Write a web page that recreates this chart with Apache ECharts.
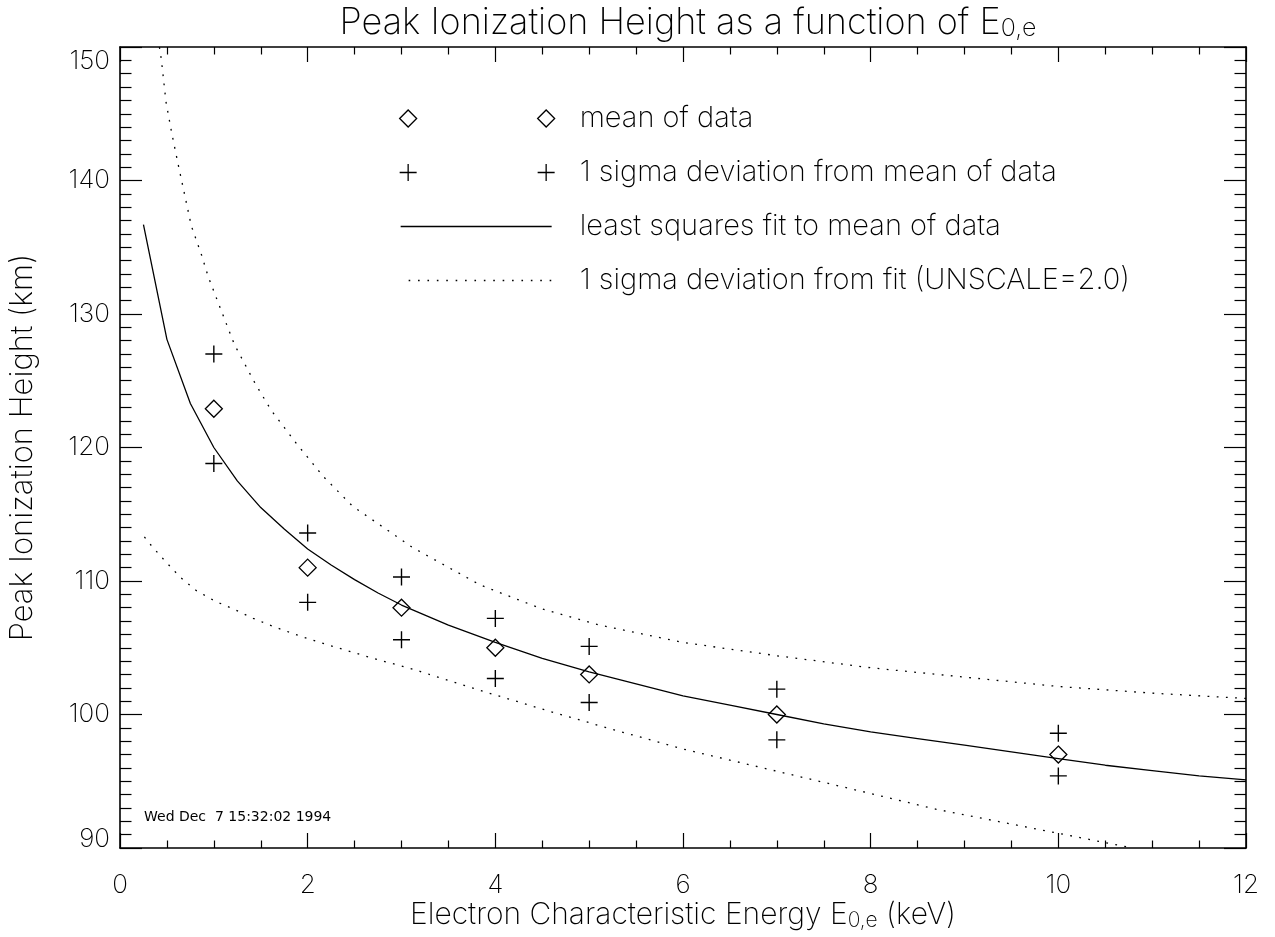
<!DOCTYPE html>
<html>
<head>
<meta charset="utf-8">
<script src="https://cdn.jsdelivr.net/npm/echarts@6/dist/echarts.min.js"></script>
<style>
html,body{margin:0;padding:0;background:#fff;}
#chart{width:1275px;height:937px;}
</style>
</head>
<body>
<div id="chart"></div>
<script>
// ---------------- data ----------------
const xTicks = [0, 2, 4, 6, 8, 10, 12];
const yTicks = [90, 100, 110, 120, 130, 140, 150];

const energies   = [1, 2, 3, 4, 5, 7, 10];
const meanHeight = [122.9, 111.0, 108.0, 105.0, 103.0, 100.0, 97.0];
const sigmaUpper = [127.0, 113.6, 110.3, 107.2, 105.1, 101.9, 98.6];
const sigmaLower = [118.8, 108.4, 105.6, 102.7, 100.9, 98.1, 95.4];

const fitE = [0.25, 0.5, 0.75, 1, 1.25, 1.5, 1.75, 2, 2.25, 2.5, 2.75, 3, 3.5, 4, 4.5, 5,
              5.5, 6, 6.5, 7, 7.5, 8, 8.5, 9, 9.5, 10, 10.5, 11, 11.5, 12];
const fitH = [136.7, 128.1, 123.3, 120.0, 117.5, 115.5, 113.9, 112.4, 111.2, 110.1, 109.1, 108.2, 106.7, 105.4, 104.2, 103.2,
              102.3, 101.4, 100.7, 100.0, 99.3, 98.7, 98.2, 97.7, 97.2, 96.7, 96.2, 95.8, 95.4, 95.1];

const upperFitE = [0.42, 0.44, 0.49, 0.55, 0.62, 0.69, 0.76, 0.87, 0.94, 1.06, 1.22, 1.44, 1.61, 1.88, 2.17, 2.48,
                   3.12, 3.84, 4.5, 5.11, 6, 7, 8, 9, 10, 11, 12];
const upperFitH = [150.0, 149.1, 145.9, 143.6, 141.2, 138.9, 136.6, 134.4, 132.8, 130.6, 127.7, 124.8, 122.8, 120.3, 117.8, 115.6,
                   112.5, 109.7, 107.9, 106.7, 105.4, 104.4, 103.5, 102.8, 102.1, 101.6, 101.2];

const lowerFitE = [0.26, 0.34, 0.48, 0.64, 0.81, 1.01, 1.21, 1.42, 1.63, 1.95, 2.27, 2.7, 3.12, 3.84, 4.55, 5.19,
                   6.01, 6.91, 7.81, 8.7, 10.0, 10.79];
const lowerFitH = [113.3, 112.6, 111.5, 110.3, 109.3, 108.5, 107.9, 107.2, 106.6, 105.8, 105.1, 104.2, 103.4, 101.8, 100.3, 99.0,
                   97.4, 95.9, 94.4, 92.9, 91.1, 90.0];

const titleText = 'Peak Ionization Height as a function of E{sub|0,e}';
const xName = 'Electron Characteristic Energy E{sub|0,e} (keV)';
const yName = 'Peak Ionization Height (km)';
const stampText = 'Wed Dec  7 15:32:02 1994';
const legendNames = ['mean of data', '1 sigma deviation from mean of data',
                     'least squares fit to mean of data', '1 sigma deviation from fit (UNSCALE=2.0)'];

// ---------------- styling ----------------
const FONT = "Inter, 'DejaVu Sans', sans-serif";
const FW = 200;
const INK = '#000';
const pairs = (xs, ys) => xs.map((x, i) => [x, ys[i]]);

const PLUS = 'path://M0 8 L16 8 M8 0 L8 16';
const W = 155, H = 17;
const box = 'M0 0 M' + W + ' ' + H + ' ';
const iconDiamonds = 'path://' + box + 'M0 8.5 L8.5 0 L17 8.5 L8.5 17 Z M138 8.5 L146.5 0 L155 8.5 L146.5 17 Z';
const iconPlus = 'path://' + box + 'M0 8.5 L17 8.5 M8.5 0 L8.5 17 M138 8.5 L155 8.5 M146.5 0 L146.5 17';
const iconSolid = 'path://' + box + 'M1 8.5 L152 8.5';
let dotted = box;
for (let p = 9; p < 152; p += 9.4) dotted += 'M' + p.toFixed(1) + ' 8.5 L' + (p + 1.6).toFixed(1) + ' 8.5 ';
const iconDotted = 'path://' + dotted;

const strokeOnly = { color: 'rgba(0,0,0,0)', borderColor: INK, borderWidth: 1.3 };

const subRich = (size, pad) => ({
  sub: { fontFamily: FONT, fontWeight: FW, fontSize: size, color: INK, verticalAlign: 'bottom', lineHeight: size, padding: [pad, 0, 0, 0] }
});

const axisCommon = {
  type: 'value',
  axisLine: { show: true, onZero: false, lineStyle: { color: INK, width: 1.6 } },
  splitLine: { show: false },
};

const yLabelRich = {
  lo: { fontFamily: FONT, fontWeight: FW, fontSize: 26, color: INK, lineHeight: 17 },
  hi: { fontFamily: FONT, fontWeight: FW, fontSize: 26, color: INK, lineHeight: 28 }
};
const yLabelFormatter = v => {
  if (yTicks.indexOf(v) < 0) return '';
  if (v === yTicks[0]) return '{lo|' + v + '}';
  if (v === yTicks[yTicks.length - 1]) return '{hi|' + v + '}';
  return String(v);
};

const chart = echarts.init(document.getElementById('chart'), null, { renderer: 'canvas' });

const option = {
  backgroundColor: '#fff',
  animation: false,
  title: {
    text: titleText,
    left: 683,
    textAlign: 'center',
    top: 0,
    textStyle: { fontFamily: FONT, fontSize: 36, fontWeight: FW, color: INK, lineHeight: 36, rich: subRich(25, 17) }
  },
  grid: { left: 120, right: 29, top: 47, bottom: 89, containLabel: false, outerBoundsMode: 'none' },
  legend: {
    orient: 'vertical',
    left: 394,
    top: 98,
    itemWidth: W,
    itemHeight: H,
    itemGap: 23,
    selectedMode: false,
    symbolKeepAspect: false,
    textStyle: { fontFamily: FONT, fontWeight: FW, fontSize: 29, color: INK, lineHeight: 31, padding: [0, 0, 0, 20] },
    data: [
      { name: legendNames[0], icon: iconDiamonds, itemStyle: strokeOnly },
      { name: legendNames[1], icon: iconPlus, itemStyle: strokeOnly },
      { name: legendNames[2], icon: iconSolid, itemStyle: { color: 'rgba(0,0,0,0)', borderColor: INK, borderWidth: 1.3 } },
      { name: legendNames[3], icon: iconDotted, itemStyle: { color: 'rgba(0,0,0,0)', borderColor: INK, borderWidth: 1.3 } }
    ]
  },
  xAxis: [
    Object.assign({}, axisCommon, {
      position: 'bottom', min: xTicks[0], max: xTicks[xTicks.length - 1], interval: 2,
      name: xName, nameLocation: 'middle', nameGap: 51, nameMoveOverlap: false,
      nameTextStyle: { fontFamily: FONT, fontWeight: FW, fontSize: 30, color: INK, lineHeight: 32, rich: subRich(21, 15) },
      axisTick: { show: true, inside: true, length: 15, lineStyle: { color: INK, width: 1.2 } },
      minorTick: { show: true, splitNumber: 4, length: 7.5, lineStyle: { color: INK, width: 1.2 } },
      axisLabel: { show: true, margin: 24, fontFamily: FONT, fontWeight: FW, fontSize: 26, color: INK,
                   formatter: v => (xTicks.indexOf(v) >= 0 ? String(v) : '') }
    }),
    Object.assign({}, axisCommon, {
      position: 'top', min: xTicks[0], max: xTicks[xTicks.length - 1], interval: 2,
      axisTick: { show: true, inside: true, length: 15, lineStyle: { color: INK, width: 1.2 } },
      minorTick: { show: true, splitNumber: 4, length: 7.5, lineStyle: { color: INK, width: 1.2 } },
      axisLabel: { show: false }
    })
  ],
  yAxis: [
    Object.assign({}, axisCommon, {
      position: 'left', min: yTicks[0], max: yTicks[yTicks.length - 1], interval: 10,
      name: yName, nameLocation: 'middle', nameGap: 82, nameRotate: 90, nameMoveOverlap: false,
      nameTextStyle: { fontFamily: FONT, fontWeight: FW, fontSize: 31, color: INK },
      axisTick: { show: true, inside: true, length: 22, lineStyle: { color: INK, width: 1.2 } },
      minorTick: { show: true, splitNumber: 10, length: 11.5, lineStyle: { color: INK, width: 1.2 } },
      axisLabel: { show: true, margin: 10, fontFamily: FONT, fontWeight: FW, fontSize: 26, color: INK,
                   verticalAlignMinLabel: 'bottom', verticalAlignMaxLabel: 'top',
                   rich: yLabelRich, formatter: yLabelFormatter }
    }),
    Object.assign({}, axisCommon, {
      position: 'right', min: yTicks[0], max: yTicks[yTicks.length - 1], interval: 10,
      axisTick: { show: true, inside: true, length: 22, lineStyle: { color: INK, width: 1.2 } },
      minorTick: { show: true, splitNumber: 10, length: 11.5, lineStyle: { color: INK, width: 1.2 } },
      axisLabel: { show: false }
    })
  ],
  graphic: [
    { type: 'text', left: 144, top: 810, silent: true,
      style: { text: stampText, fontFamily: "'DejaVu Sans', sans-serif", fontSize: 14, fill: '#000' } }
  ],
  series: [
    { name: legendNames[2], type: 'line', data: pairs(fitE, fitH), symbol: 'none', silent: true, clip: true,
      lineStyle: { color: INK, width: 1.3 }, itemStyle: { color: INK } },
    { name: legendNames[3], type: 'line', data: pairs(upperFitE, upperFitH), symbol: 'none', silent: true, clip: true,
      lineStyle: { color: INK, width: 1.3, type: [1.8, 7.4] }, itemStyle: { color: INK } },
    { name: legendNames[3], type: 'line', data: pairs(lowerFitE, lowerFitH), symbol: 'none', silent: true, clip: true,
      lineStyle: { color: INK, width: 1.3, type: [1.8, 7.4] }, itemStyle: { color: INK } },
    { name: legendNames[1], type: 'scatter', symbol: PLUS, symbolSize: 17, silent: true,
      data: pairs(energies, sigmaUpper).concat(pairs(energies, sigmaLower)),
      itemStyle: { color: 'rgba(0,0,0,0)', borderColor: INK, borderWidth: 1.4, opacity: 1 } },
    { name: legendNames[0], type: 'scatter', symbol: 'diamond', symbolSize: [17, 17], silent: true,
      data: pairs(energies, meanHeight),
      itemStyle: { color: 'rgba(0,0,0,0)', borderColor: INK, borderWidth: 1.3, opacity: 1 } }
  ]
};
chart.setOption(option);
</script>
</body>
</html>
